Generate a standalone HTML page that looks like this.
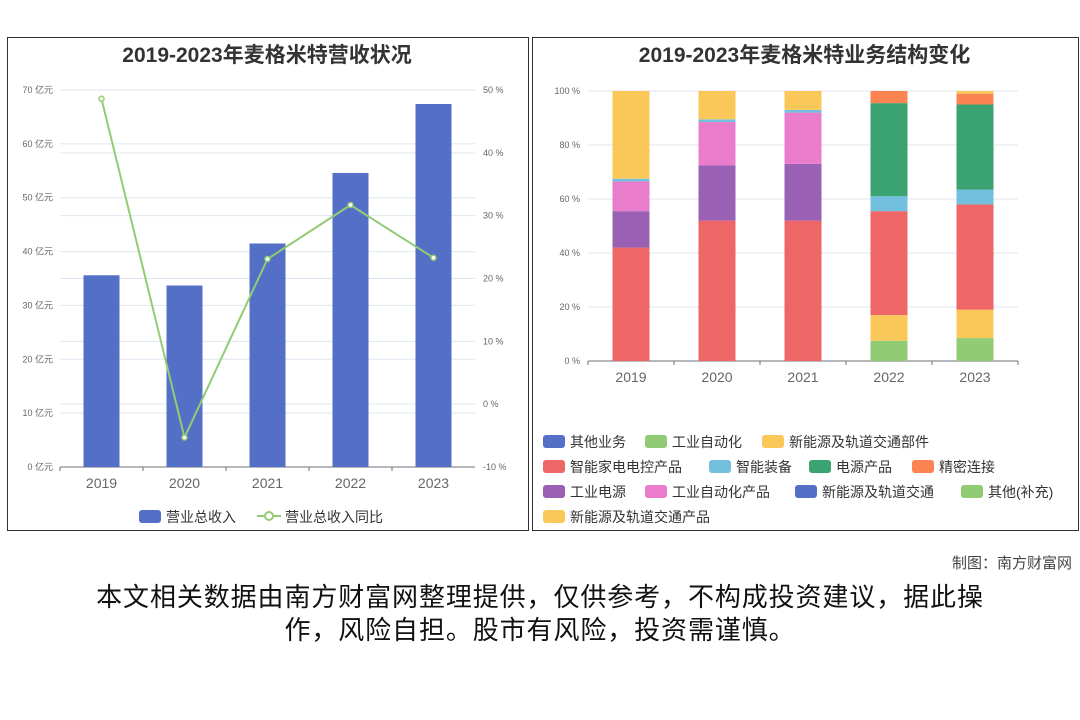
<!DOCTYPE html>
<html><head><meta charset="utf-8">
<style>
body{margin:0;width:1080px;height:720px;background:#fff;font-family:"Liberation Sans","Noto Sans CJK SC",sans-serif;position:relative;overflow:hidden}
.panel{position:absolute;border:1px solid #333;background:#fff}
.ttl{position:absolute;font-weight:bold;font-size:21px;color:#333;text-align:center}
.foot{position:absolute;left:0;width:1080px;text-align:center;font-size:26px;letter-spacing:0.9px;color:#111;line-height:33px}
</style></head><body>
<div class="panel" style="left:7px;top:37px;width:520px;height:492px"></div>
<div class="panel" style="left:532px;top:37px;width:545px;height:492px"></div>
<div class="ttl" style="left:7px;top:39px;width:520px">2019-2023年麦格米特营收状况</div>
<div class="ttl" style="left:532px;top:39px;width:545px">2019-2023年麦格米特业务结构变化</div>
<svg id="c" width="1080" height="720" style="position:absolute;left:0;top:0"></svg>
<div style="position:absolute;right:8px;top:552px;font-size:15px;color:#444">制图：南方财富网</div>
<div class="foot" style="top:581px">本文相关数据由南方财富网整理提供，仅供参考，不构成投资建议，据此操<br>作，风险自担。股市有风险，投资需谨慎。</div>
<script>
const years=['2019','2020','2021','2022','2023'];
const revenue=[35.6,33.7,41.5,54.6,67.4];
const growth=[48.6,-5.3,23.1,31.7,23.3];
const leftTicks=[0,10,20,30,40,50,60,70];
const rightTicks=[-10,0,10,20,30,40,50];
const pctTicks=[0,20,40,60,80,100];
const segNames=['其他(补充)','新能源及轨道交通部件','智能家电电控产品','工业电源','工业自动化产品','智能装备','电源产品','精密连接','新能源及轨道交通产品'];
const segColors=['#91cc75','#fac858','#ee6666','#9a60b4','#ea7ccc','#73c0de','#3ba272','#fc8452','#fac858'];
const seg2019=[0,0,42,13.5,11,1,0,0,32.5];
const seg2020=[0,0,52,20.5,16,1,0,0,10.5];
const seg2021=[0,0,52,21,19,1,0,0,7];
const seg2022=[7.5,9.5,38.5,0,0,5.5,34.5,4.5,0];
const seg2023=[8.5,10.5,39,0,0,5.5,31.5,4,1];
const segData=[seg2019,seg2020,seg2021,seg2022,seg2023];
const S='http://www.w3.org/2000/svg',svg=document.getElementById('c');
function mk(t,a,txt){const e=document.createElementNS(S,t);for(const k in a)e.setAttribute(k,a[k]);if(txt!=null)e.textContent=txt;svg.appendChild(e);return e;}
const L0=60,L1=475,Y0=467,Y1=90;
const yl=v=>Y0-(v/70)*(Y0-Y1), yr=v=>Y0-((v+10)/60)*(Y0-Y1);
const bw=(L1-L0)/years.length, xc=i=>L0+bw*(i+0.5);
leftTicks.forEach(t=>{let g=mk('line',{x1:L0,x2:L1,y1:yl(t),y2:yl(t),stroke:'#e0e6f1'});
 let e=mk('text',{x:53,y:yl(t)+3,'font-size':9,fill:'#666','text-anchor':'end'},t+' 亿元');});
rightTicks.forEach(t=>{let g=mk('line',{x1:L0,x2:L1,y1:yr(t),y2:yr(t),stroke:'#e0e6f1'});
 let e=mk('text',{x:483,y:yr(t)+3,'font-size':9,fill:'#666'},t+' %');});
mk('line',{x1:L0,x2:L1,y1:Y0,y2:Y0,stroke:'#6e7079'});
revenue.forEach((v,i)=>{let r=mk('rect',{x:xc(i)-18,y:yl(v),width:36,height:Y0-yl(v),fill:'#5470c6'});
 let t=mk('text',{x:xc(i),y:488,'font-size':14,fill:'#666','text-anchor':'middle'},years[i]);
 mk('line',{x1:L0+bw*i,x2:L0+bw*i,y1:Y0,y2:Y0+4,stroke:'#6e7079'});});
let pl=mk('polyline',{points:growth.map((v,i)=>xc(i)+','+yr(v)).join(' '),fill:'none',stroke:'#91cc75','stroke-width':2});
growth.forEach((v,i)=>{let c=mk('circle',{cx:xc(i),cy:yr(v),r:2.5,fill:'#fff',stroke:'#91cc75','stroke-width':1.5});});
mk('rect',{x:139,y:510,width:22,height:13,rx:3,fill:'#5470c6'});
let lt1=mk('text',{x:166,y:522,'font-size':14,fill:'#333'},'营业总收入');
mk('line',{x1:257,x2:281,y1:516,y2:516,stroke:'#91cc75','stroke-width':2});mk('circle',{cx:269,cy:516,r:4,fill:'#fff',stroke:'#91cc75','stroke-width':2});
let lt2=mk('text',{x:285,y:522,'font-size':14,fill:'#333'},'营业总收入同比');
const R0=588,R1=1018,P0=361,P1=91;
const yp=v=>P0-(v/100)*(P0-P1), rbw=(R1-R0)/years.length, rxc=i=>R0+rbw*(i+0.5);
pctTicks.forEach(t=>{mk('line',{x1:R0,x2:R1,y1:yp(t),y2:yp(t),stroke:'#e0e6f1'});
 let e=mk('text',{x:580,y:yp(t)+3,'font-size':9,fill:'#666','text-anchor':'end'},t+' %');});
mk('line',{x1:R0,x2:R1,y1:P0,y2:P0,stroke:'#6e7079'});
segData.forEach((d,i)=>{let acc=0;d.forEach((v,k)=>{if(v>0){let r=mk('rect',{x:rxc(i)-18.5,y:yp(acc+v),width:37,height:yp(acc)-yp(acc+v),fill:segColors[k]});}acc+=v;});
 let t=mk('text',{x:rxc(i),y:382,'font-size':14,fill:'#666','text-anchor':'middle'},years[i]);
 mk('line',{x1:R0+rbw*i,x2:R0+rbw*i,y1:P0,y2:P0+4,stroke:'#6e7079'});});
mk('line',{x1:R1,x2:R1,y1:P0,y2:P0+4,stroke:'#6e7079'});
const legItems=[['其他业务','#5470c6',543,441],['工业自动化','#91cc75',645,441],['新能源及轨道交通部件','#fac858',762,441],
['智能家电电控产品','#ee6666',543,466],['智能装备','#73c0de',709,466],['电源产品','#3ba272',809,466],['精密连接','#fc8452',912,466],
['工业电源','#9a60b4',543,491],['工业自动化产品','#ea7ccc',645,491],['新能源及轨道交通','#5470c6',795,491],['其他(补充)','#91cc75',961,491],
['新能源及轨道交通产品','#fac858',543,516]];
legItems.forEach(it=>{mk('rect',{x:it[2],y:it[3]-6,width:22,height:13,rx:3,fill:it[1]});
 let t=mk('text',{x:it[2]+27,y:it[3]+6,'font-size':14,fill:'#333'},it[0]);});
</script>
</body></html>
